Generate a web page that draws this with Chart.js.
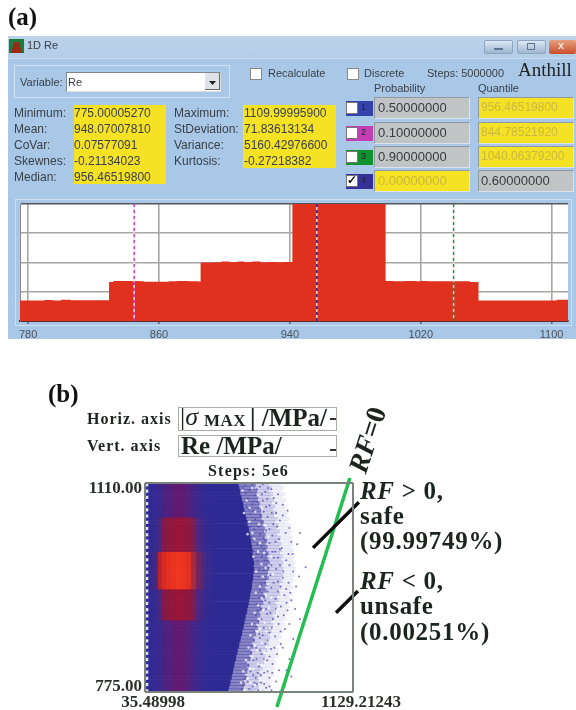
<!DOCTYPE html>
<html>
<head>
<meta charset="utf-8">
<script src="https://cdn.jsdelivr.net/npm/chart.js@4"></script>
<style>
  html, body { margin: 0; background: #fff; }
  #page { position: relative; width: 576px; height: 710px; overflow: hidden; filter: blur(0.55px); font-family: "Liberation Sans", sans-serif; color: #3a4048; }
  #page div, #page span, #page canvas { position: absolute; white-space: nowrap; }
  .serif { font-family: "Liberation Serif", serif; font-weight: bold; color: #1c2420; }
</style>
</head>
<body>
<div id="page">
  <div class="serif" style="left:8px;top:3px;font-size:25px;color:#111">(a)</div>
  <div class="serif" style="left:48px;top:380px;font-size:25px;color:#111">(b)</div>

  <div id="panel" style="left:8px;top:36px;width:568px;height:303px;background:#a9c8e8"></div>
  <div style="left:8px;top:36px;width:568px;height:22px;background:linear-gradient(#bcd3ea,#b4cde8);border-bottom:1px solid #c8dcf0"></div>
  <div style="left:9px;top:39px;width:15px;height:14px;background:#1c7a3a"></div>
  <div style="left:11px;top:42px;width:11px;height:11px;background:#9a2a18;clip-path:polygon(30% 0,70% 0,100% 100%,0 100%)"></div>
  <div style="left:27px;top:39px;font-size:11px">1D Re</div>
  <div style="left:484px;top:40px;width:29px;height:14px;border-radius:2px;background:linear-gradient(#dce8f4,#9fb6d0);border:1px solid #8ea5bd;box-sizing:border-box"></div>
  <div style="left:517px;top:40px;width:29px;height:14px;border-radius:2px;background:linear-gradient(#dce8f4,#9fb6d0);border:1px solid #8ea5bd;box-sizing:border-box"></div>
  <div style="left:549px;top:40px;width:27px;height:14px;border-radius:2px;background:linear-gradient(#e8a080,#c8502c);box-sizing:border-box"></div>
  <div style="left:494px;top:48px;width:9px;height:2px;background:#5d7590"></div>
  <div style="left:527px;top:43px;width:8px;height:7px;border:1px solid #5d7590;box-sizing:border-box"></div>
  <div style="left:558px;top:39px;font-size:11px;font-weight:bold;color:#f0e4dc">x</div>

  <div style="left:14px;top:65px;width:216px;height:33px;border:1px solid #cfe0f2;box-sizing:border-box"></div>
  <div style="left:20px;top:76px;font-size:11px">Variable:</div>
  <div style="left:66px;top:72px;width:155px;height:20px;background:#fff;border:1px solid #7f8890;border-right-color:#ddd;border-bottom-color:#ddd;box-sizing:border-box"></div>
  <div style="left:68px;top:76px;font-size:11px">Re</div>
  <div style="left:205px;top:73px;width:15px;height:17px;background:#dfe3e8;border-right:1px solid #666;border-bottom:1px solid #666;box-sizing:border-box"></div>
  <div style="left:209px;top:81px;width:7px;height:4px;background:#222;clip-path:polygon(0 0,100% 0,50% 100%)"></div>

  <div style="left:250px;top:68px;width:12px;height:12px;background:#fff;border:1px solid #888;box-sizing:border-box"></div>
  <div style="left:268px;top:67px;font-size:11px">Recalculate</div>
  <div style="left:347px;top:68px;width:12px;height:12px;background:#fff;border:1px solid #888;box-sizing:border-box"></div>
  <div style="left:364px;top:67px;font-size:11px">Discrete</div>
  <div style="left:427px;top:67px;font-size:11px">Steps: 5000000</div>
  <div class="serif" style="left:518px;top:59px;font-size:19px;font-weight:normal;color:#222">Anthill</div>
  <div style="left:374px;top:82px;font-size:11px">Probability</div>
  <div style="left:478px;top:82px;font-size:11px">Quantile</div>

  <div style="left:74px;top:105px;width:92px;height:79px;background:#f6e225"></div>
  <div style="left:243px;top:105px;width:93px;height:63px;background:#f6e225"></div>
  <div id="stats"></div>

  <div style="left:15px;top:199px;width:557px;height:127px;border:1px solid #cfe0f2;box-sizing:border-box"></div>
  <div style="left:20px;top:204px;width:548px;height:117px;background:#fff"></div>
  <canvas id="histChart" width="576" height="145" style="left:0;top:196px"></canvas>

  <div class="serif" style="left:87px;top:410px;font-size:16px;letter-spacing:1px">Horiz. axis</div>
  <div style="left:178px;top:407px;width:159px;height:24px;border:1px solid #a8b0a8;box-sizing:border-box"></div>
  <div class="serif" style="left:180px;top:402px;font-size:26px;font-weight:normal">|<i>σ</i></div>
  <div class="serif" style="left:204px;top:411px;font-size:17px;letter-spacing:.5px">MAX</div>
  <div class="serif" style="left:250px;top:404px;font-size:25px">| /MPa/</div>
  <div style="left:330px;top:418px;width:6px;height:2px;background:#333"></div>
  <div class="serif" style="left:87px;top:437px;font-size:16px;letter-spacing:1px">Vert. axis</div>
  <div style="left:178px;top:435px;width:159px;height:22px;border:1px solid #a8b0a8;box-sizing:border-box"></div>
  <div class="serif" style="left:181px;top:432px;font-size:25px">Re /MPa/</div>
  <div style="left:330px;top:449px;width:6px;height:2px;background:#333"></div>
  <div class="serif" style="left:208px;top:462px;font-size:16px;letter-spacing:1.2px">Steps: 5e6</div>

  <canvas id="mapChart" width="576" height="240" style="left:0;top:470px"></canvas>

  <div class="serif" style="left:334px;top:424px;font-size:28px;transform:rotate(-72deg);transform-origin:center"><i>RF</i>=0</div>
  <div class="serif" style="left:360px;top:477px;font-size:25px;letter-spacing:.7px"><i>RF</i> &gt; 0,</div>
  <div class="serif" style="left:360px;top:502px;font-size:25px;letter-spacing:.7px">safe</div>
  <div class="serif" style="left:360px;top:527px;font-size:25px;letter-spacing:.7px">(99.99749%)</div>
  <div class="serif" style="left:360px;top:567px;font-size:25px;letter-spacing:.7px"><i>RF</i> &lt; 0,</div>
  <div class="serif" style="left:360px;top:592px;font-size:25px;letter-spacing:.7px">unsafe</div>
  <div class="serif" style="left:360px;top:618px;font-size:25px;letter-spacing:.7px">(0.00251%)</div>
</div>

<script>
  // panel a, statistics read from the dialog
  const statLabels1 = ['Minimum:', 'Mean:', 'CoVar:', 'Skewnes:', 'Median:'];
  const statValues1 = ['775.00005270', '948.07007810', '0.07577091', '-0.21134023', '956.46519800'];
  const statLabels2 = ['Maximum:', 'StDeviation:', 'Variance:', 'Kurtosis:'];
  const statValues2 = ['1109.99995900', '71.83613134', '5160.42976600', '-0.27218382'];
  const probValues = ['0.50000000', '0.10000000', '0.90000000', '0.00000000'];
  const quantValues = ['956.46519800', '844.78521920', '1040.06379200', '0.60000000'];
  const probColors = ['#3343ab', '#c23fb4', '#12922e', '#33309a'];

  // panel a, histogram outline of Re: step positions and heights (core runs off the top)
  const histX = [775,790,795,800,806,829.4,832,848,851,866,871,878,884,885.4,893,898,903,908,912,917,922,926,932,936,941.5,998.5,1003,1010,1017,1020,1024,1030,1040,1050,1055.3,1100,1103,1110];
  const histY = [0.70,0.72,0.70,0.73,0.71,1.33,1.37,1.36,1.34,1.36,1.37,1.36,1.35,2.00,2.01,2.03,2.02,2.03,2.02,2.03,2.01,2.02,2.01,2.02,5,1.37,1.36,1.37,1.36,1.37,1.36,1.36,1.36,1.33,0.70,0.70,0.73,0.73];
  const histTicks = [780, 860, 940, 1020, 1100];
  const histLevels = [0, 1, 2, 3, 4];
  const quantiles = [844.785, 956.465, 1040.064];
  const quantileColors = ['#d63cc8', '#2b2f9a', '#1a9a3a'];

  // panel b, rows of the density map (Re) and where the solid blue, dense spray and pale spray stop in each row (sigma)
  const reRows = [777.5,782.5,787.5,792.5,797.5,802.5,807.5,812.5,817.5,822.5,827.5,832.5,837.5,842.5,847.5,852.5,857.5,862.5,867.5,872.5,877.5,882.5,887.5,892.5,897.5,902.5,907.5,912.5,917.5,922.5,927.5,932.5,937.5,942.5,947.5,952.5,957.5,962.5,967.5,972.5,977.5,982.5,987.5,992.5,997.5,1002.5,1007.5,1012.5,1017.5,1022.5,1027.5,1032.5,1037.5,1042.5,1047.5,1052.5,1057.5,1062.5,1067.5,1072.5,1077.5,1082.5,1087.5,1092.5,1097.5,1102.5,1107.5];
  const blueEdge = [474,478,484,486,492,494,498,502,506,508,514,516,522,524,530,532,538,540,546,548,554,556,560,564,566,572,574,578,582,584,588,590,594,598,598,602,604,606,608,610,608,610,606,606,602,602,598,596,594,590,588,584,582,576,574,570,566,562,558,554,552,546,544,538,536,532,528];
  const denseReach = [548,552,560,552,566,558,572,566,580,570,588,580,596,588,604,594,610,604,618,610,626,616,634,624,640,636,650,642,656,652,664,656,672,664,678,668,684,676,680,688,678,690,682,676,684,672,678,668,676,662,668,660,664,652,658,646,650,642,644,632,638,626,630,620,624,610,616];
  const paleReach = [620,632,624,640,628,646,636,652,644,660,650,668,656,676,664,684,672,692,680,700,688,708,696,714,704,722,712,730,720,738,728,744,734,750,740,756,746,760,750,762,752,760,748,758,744,754,740,750,736,746,730,742,724,736,718,730,712,724,706,718,700,712,694,706,688,700,684];
  const sigmaBands = [35.5,46,70.7,97,118,140.7,167,193,219.7,246,272,298.6,324.9,351,393];
  const tailColors = ['#302a92','#312a94','#342a92','#3b288c','#452486','#52207e','#5c1c74','#601a70','#5c1c74','#52207e','#452486','#3a288c','#322a92','#2f2a94','#2e2a94'];
  const shoulderColors = ['#302a92','#312a94','#362a8e','#4a2680','#801a4c','#8c1840','#94163c','#981438','#94163c','#8c1840','#7c1c50','#4c2680','#3c288a','#302a92','#2e2a94'];
  const coreColors = ['#302a92','#332a90','#46267e','#b8242c','#d82a24','#e43020','#ea3420','#ee3620','#ea3420','#e03020','#a82a3c','#702460','#4c2880','#342a90','#2e2a94'];

  // scattered samples outside the solid blue, read by eye (sigma, Re)
  const sprayPoints = [
    [560,1105],[585,1098],[612,1090],[640,1104],[668,1096],[700,1100],[735,1092],[575,1085],[598,1076],[630,1070],[655,1082],[690,1074],[725,1062],[760,1075],[590,1060],[615,1052],[650,1048],[680,1056],[710,1044],[745,1050],[795,1038],[610,1036],[640,1028],[672,1034],[705,1026],[740,1020],[775,1030],[835,1012],[625,1012],[660,1004],[690,1014],[720,1000],[755,1006],[790,996],[880,975],
    [650,992],[680,985],[712,990],[745,978],[778,986],[815,968],[660,970],[695,962],[725,972],[760,958],[790,950],[830,944],[665,950],[700,942],[735,936],[768,930],[805,922],[660,928],[690,918],[722,924],[750,912],[785,906],[850,892],[645,908],[678,900],[708,892],[738,884],[772,876],[815,860],[630,888],[660,878],[690,870],[720,864],[750,852],[640,862],[668,852],[698,844],[730,836],[795,828],
    [620,846],[648,836],[678,826],[706,820],[740,810],[606,826],[634,816],[662,806],[690,798],[725,792],[770,784],[590,808],[618,798],[646,790],[672,782],[700,778],[575,792],[602,784],[630,778],[656,776],
    [548,1102],[570,1072],[566,1046],[594,1024],[602,1002],[628,984],[632,960],[640,938],[622,916],[618,898],[610,872],[598,850],[585,830],[572,812],[558,796],[545,780],[566,1094],[580,1068],[588,1040],[606,1018],[622,996],[636,972],[648,948],[634,926],[628,906],[620,880],[608,858],[592,838],[580,818],[566,800],[552,786],
    [600,1108],[626,1080],[640,1058],[668,1018],[676,996],[684,974],[680,936],[672,908],[654,866],[640,842],[628,806],[612,790],[596,776],[622,1100],[606,1066],[634,1040],[648,1008],[664,986],[672,956],[668,922],[648,892],[636,868],[622,828],[604,802],[584,780],
    [655,1108],[684,1102],[712,1086],[672,1072],[702,1062],[660,1064],[730,1040],[690,1036],[660,1022],[722,1016],[745,1004],[705,1000],[735,990],[700,978],[762,968],[735,952],[712,950],[778,940],[748,944],[722,908],[765,898],[695,902],[735,896],[702,878],[748,872],[680,858],[715,846],[690,832],[660,828],[705,806],[680,808],[645,802],[662,788],[625,788],[690,784],[610,1080],[650,1092],[678,1084],[725,1078],[760,1058],[785,1066],[805,1016],[812,996],[850,1030],[795,978],[845,960],[800,934],[780,918],[825,908],[795,884],[760,846],[780,810],[745,776],[805,800]
  ];
  // pale holes inside the dense part of the spray, read by eye (sigma, Re)
  const holePoints = [
    [548,1098],[570,1082],[556,1062],[585,1048],[575,1028],[610,1020],[605,992],[630,1000],[648,980],[620,968],[655,960],[640,944],[618,934],[650,925],[630,914],[612,902],[640,892],[598,884],[625,872],[590,866],[612,850],[580,846],[600,832],[566,826],[588,812],[552,808],[575,796],[540,790],[560,778],[600,1102],[585,1070],[615,1064],[635,1044],[600,1030],[640,1014],[662,998],[670,974],[680,948],[672,930],[655,906],[665,886],[640,876],[650,854],[625,842],[630,820],[605,812],[612,786],[590,790],[630,1090],[650,1070],[668,1042],[684,1024],[700,992],[708,964],[700,926],[688,910],[672,872],[660,840],[648,818],[640,794]
  ];

  // green limit line and the two leader lines of the labels
  const rfLineX = [729, 1113];
  const rfLineY = [751, 1118];
  const safeLeaderX = [919, 1160];
  const safeLeaderY = [1006, 1079];
  const unsafeLeaderX = [1040, 1155];
  const unsafeLeaderY = [902, 937];
  const sigmaTicks = [35.49, 1129.21];
  const sigmaLabels = ['35.48998', '1129.21243'];
  const reTicks = [775, 1110];
  const reLabels = ['775.00', '1110.00'];

  const page = document.getElementById('stats');
  function put(text, x, y, css) {
    const el = document.createElement('div');
    el.textContent = text;
    el.style.cssText = 'left:' + x + 'px;top:' + y + 'px;font-size:12px;' + (css || '');
    page.appendChild(el);
    return el;
  }
  const rowTop = [106, 122, 138, 154, 170];
  statLabels1.forEach((t, i) => put(t, 14, rowTop[i]));
  statValues1.forEach((t, i) => put(t, 74, rowTop[i]));
  statLabels2.forEach((t, i) => put(t, 174, rowTop[i]));
  statValues2.forEach((t, i) => put(t, 244, rowTop[i]));

  const boxTop = [97, 122, 146, 170];
  const boxBase = 'width:96px;height:22px;box-sizing:border-box;border:1px solid #8f9aa0;border-right-color:#d8e4ee;border-bottom-color:#d8e4ee;';
  probValues.forEach((t, i) => {
    const on = i < 3;
    put('', 374, boxTop[i], boxBase + 'background:' + (on ? '#c0c4c4' : '#f6e225'));
    put(t, 378, boxTop[i] + 3, 'font-size:13px;color:' + (on ? '#383c40' : '#c9b840'));
    put('', 346, boxTop[i] + 4, 'width:27px;height:15px;background:' + probColors[i]);
    put('', 346, boxTop[i] + 5, 'width:12px;height:12px;background:#fff;border:1px solid #777;box-sizing:border-box');
    put(String(i + 1), 361, boxTop[i] + 5, 'font-size:9px;color:#223');
  });
  put('\u2713', 347, boxTop[3] + 3, 'font-weight:bold;color:#111');
  quantValues.forEach((t, i) => {
    const on = i < 3;
    put('', 478, boxTop[i], boxBase + 'background:' + (on ? '#f6e225' : '#c0c4c4'));
    put(t, 481, boxTop[i] + 3, 'font-size:' + (on ? 12 : 13) + 'px;color:' + (on ? '#c9b840' : '#383c40'));
  });

  Chart.defaults.animation = false;
  Chart.defaults.font.family = '"Liberation Sans", sans-serif';

  // histogram
  const quantileSets = [];
  quantiles.forEach((q, i) => {
    const line = [{ x: q, y: 0 }, { x: q, y: 4 }];
    quantileSets.push({ showLine: true, data: line, borderColor: '#f4d8e0', borderWidth: 1.5, borderDash: [3, 3], borderDashOffset: 3, pointRadius: 0, order: 0 });
    quantileSets.push({ showLine: true, data: line, borderColor: quantileColors[i], borderWidth: 1.5, borderDash: [3, 3], pointRadius: 0, order: 0 });
  });

  new Chart(document.getElementById('histChart'), {
    type: 'scatter',
    data: {
      datasets: [{
        label: 'Re',
        showLine: true,
        stepped: true,
        fill: 'origin',
        data: histX.map((x, i) => ({ x: x, y: histY[i] })),
        backgroundColor: '#e0311f',
        borderWidth: 0,
        pointRadius: 0,
        order: 1,
      }].concat(quantileSets),
    },
    options: {
      responsive: false,
      layout: { padding: { left: 20, right: 8, top: 8, bottom: 0 } },
      plugins: { legend: { display: false }, tooltip: { enabled: false } },
      scales: {
        x: {
          type: 'linear', min: 775, max: 1110,
          afterBuildTicks: s => { s.ticks = histTicks.map(v => ({ value: v })); },
          afterFit: s => { s.height = 20; s.paddingLeft = 0; s.paddingRight = 0; },
          grid: { color: '#a6a6a2', lineWidth: 1.6, tickLength: 3, tickColor: '#667' },
          border: { color: '#5a3030', width: 2 },
          ticks: { autoSkip: false, maxRotation: 0, padding: 4, color: '#4a5058', font: { size: 11 }, callback: v => String(v) },
        },
        y: {
          min: 0, max: 4,
          afterBuildTicks: s => { s.ticks = histLevels.map(v => ({ value: v })); },
          afterFit: s => { s.width = 0; s.paddingTop = 0; s.paddingBottom = 0; },
          grid: { color: c => (c.tick.value === 4 ? '#55585a' : '#a6a6a2'), lineWidth: 1.6, drawTicks: false },
          border: { color: '#8a8a8a', width: 1 },
          ticks: { display: false },
        },
      },
    },
  });

  // density map, one floating bar per row and colour band
  function rowColors(band) {
    return reRows.map((re, r) => {
      if (band === 0 && r % 2 === 0) return '#e4e4f2';
      if (re > 942 && re < 998) return coreColors[band];
      if ((re >= 998 && re < 1054) || (re > 888 && re <= 942)) return shoulderColors[band];
      return tailColors[band];
    });
  }
  // solid rows overlap a little so no seams show between them
  const rowBar = (order, color, from, to, thick) => ({
    type: 'bar', grouped: false, categoryPercentage: 1, barPercentage: thick, order: order,
    data: reRows.map((re, r) => ({ y: re, x: [from(r), to(r)] })),
    backgroundColor: color,
  });
  // later bands are painted over the previous one, the run-under hides the vertical seams
  const mapSets = sigmaBands.map((from, band) => rowBar(6, rowColors(band), () => from,
    r => (band + 1 < sigmaBands.length ? sigmaBands[band + 1] + 5 : blueEdge[r]), band === 0 ? 1 : 1.2));
  mapSets.push(rowBar(5, 'rgba(52,46,155,0.58)', r => blueEdge[r], r => denseReach[r], 1));
  mapSets.push(rowBar(5, 'rgba(80,74,178,0.26)', r => denseReach[r], r => paleReach[r], 1));
  mapSets.push(rowBar(5, 'rgba(100,96,190,0.10)', r => paleReach[r], r => paleReach[r] + 65, 1));

  const lineSet = (xs, ys, color, width) => ({
    type: 'scatter', indexAxis: 'x', showLine: true, clip: false, order: 1,
    data: xs.map((x, i) => ({ x: x, y: ys[i] })),
    borderColor: color, borderWidth: width, pointRadius: 0,
  });
  mapSets.push({
    type: 'scatter', indexAxis: 'x', order: 4,
    data: holePoints.map(p => ({ x: p[0], y: p[1] })),
    backgroundColor: 'rgba(255,255,255,0.75)', pointRadius: 1.3, borderWidth: 0,
  });
  mapSets.push({
    type: 'scatter', indexAxis: 'x', order: 3,
    data: sprayPoints.map(p => ({ x: p[0], y: p[1] })),
    backgroundColor: 'rgba(74,68,172,0.75)', pointRadius: 1, borderWidth: 0,
  });
  mapSets.push(lineSet(safeLeaderX, safeLeaderY, '#0c0c0c', 3.5));
  mapSets.push(lineSet(unsafeLeaderX, unsafeLeaderY, '#0c0c0c', 3.5));
  mapSets.push(lineSet(rfLineX, rfLineY, '#24bd52', 3.5));

  // the picture prints 1110.00 and 775.00 just inside the frame
  const nudgeReLabels = {
    id: 'nudgeReLabels',
    beforeDraw(chart) {
      chart.scales.y.getLabelItems().forEach((item, i) => {
        if (item.nudged) return;
        item.options.translation[1] += i === 0 ? -5 : 6;
        item.nudged = true;
      });
    },
  };

  new Chart(document.getElementById('mapChart'), {
    type: 'bar',
    data: { datasets: mapSets },
    plugins: [nudgeReLabels],
    options: {
      indexAxis: 'y',
      responsive: false,
      layout: { padding: { left: 75, right: 223, top: 13, bottom: 0 } },
      plugins: { legend: { display: false }, tooltip: { enabled: false } },
      scales: {
        x: {
          type: 'linear', min: 35.49, max: 1129.21, offset: false,
          afterBuildTicks: s => { s.ticks = sigmaTicks.map(v => ({ value: v })); },
          afterFit: s => { s.height = 18; s.paddingLeft = 0; s.paddingRight = 0; },
          grid: { offset: false, color: '#7a827c', lineWidth: 2, drawTicks: false, z: 1 },
          border: { display: false },
          ticks: { autoSkip: false, maxRotation: 0, padding: 0, labelOffset: 8, color: '#2a302c', font: { family: '"Liberation Serif", serif', size: 17, weight: 'bold' }, callback: (v, i) => sigmaLabels[i] },
        },
        y: {
          type: 'linear', min: 775, max: 1110, offset: false,
          afterBuildTicks: s => { s.ticks = reTicks.map(v => ({ value: v })); },
          afterFit: s => { s.width = 70; s.paddingTop = 0; s.paddingBottom = 0; },
          grid: { offset: false, color: '#7a827c', lineWidth: 2, drawTicks: false, z: 1 },
          border: { display: false },
          ticks: { autoSkip: false, padding: 3, color: '#2a302c', font: { family: '"Liberation Serif", serif', size: 17, weight: 'bold' }, callback: (v, i) => reLabels[i] },
        },
      },
    },
  });
</script>
</body>
</html>
